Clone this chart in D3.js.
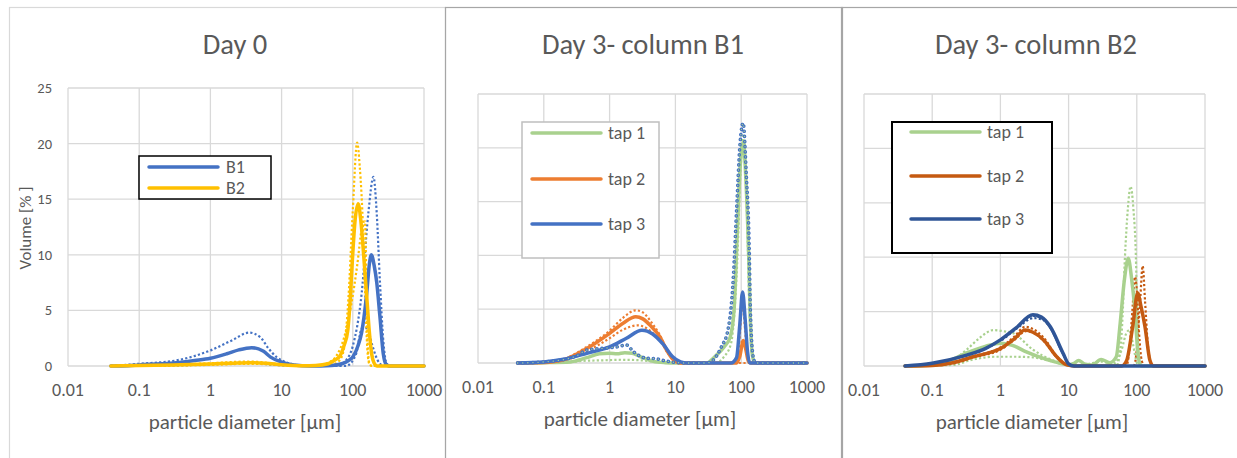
<!DOCTYPE html>
<html><head><meta charset="utf-8">
<script src="https://cdn.jsdelivr.net/npm/d3@7/dist/d3.min.js"></script>
<style>
html,body{margin:0;padding:0;background:#fff;}
svg{display:block;font-family:Carlito, Calibri, Lato, "Open Sans", sans-serif;}
</style></head><body>
<svg id="chart" width="1237" height="458"></svg>
<script>
// ---------- axis ticks / labels ----------
const xTicks = [0.01, 0.1, 1, 10, 100, 1000];
const xTickLabels = ["0.01", "0.1", "1", "10", "100", "1000"];
const yTicks = [0, 5, 10, 15, 20, 25];
const titles = ["Day 0", "Day 3- column B1", "Day 3- column B2"];
const xTitle = "particle diameter [µm]";
const yTitle = "Volume [% ]";
const legendDay0 = ["B1", "B2"];
const legendTaps = ["tap 1", "tap 2", "tap 3"];

// ---------- data: [diameter µm, volume %] ----------
// Day 0
const day0_B1 = [[0.04,0],[0.07,0.03],[0.1,0.1],[0.2,0.2],[0.33,0.3],[0.6,0.5],[1,0.7],[1.7,1.1],[2.5,1.45],[3.8,1.65],[5.5,1.35],[7,0.8],[10,0.35],[15,0.08],[25,0],[50,0.05],[70,0.2],[85,0.45],[101,0.85],[118,1.8],[133,3.0],[155,6.2],[172,9.3],[182,10.0],[200,9.0],[217,7.5],[240,4.5],[268,1.1],[290,0.2],[320,0],[1000,0]];
const day0_B1_rep1 = [[0.04,0],[0.1,0.2],[0.33,0.5],[1,1.4],[2,2.3],[3.5,3.0],[5,2.6],[6.5,1.6],[8.5,0.8],[12,0.3],[18,0.05],[30,0],[60,0],[80,0.5],[100,1.8],[133,6.5],[165,13.7],[195,17.0],[217,13.7],[240,7.7],[268,2.3],[300,0.2],[340,0],[1000,0]];
const day0_B1_rep2 = [[0.04,0],[0.3,0.05],[1,0.15],[3.5,0.3],[8,0.1],[20,0],[80,0],[110,1.0],[135,3.4],[160,3.4],[185,2.0],[220,0.6],[260,0.05],[300,0],[1000,0]];
const day0_B2 = [[0.04,0],[0.1,0.05],[0.3,0.1],[1,0.18],[2,0.25],[3.5,0.3],[6,0.25],[10,0.12],[20,0.03],[30,0.05],[45,0.2],[55,0.5],[66,0.9],[75,1.8],[85,3.2],[92,6],[98,9.2],[108,13.2],[119,14.6],[130,13],[145,9.2],[160,5.5],[170,3.2],[185,1.0],[199,0.27],[220,0],[1000,0]];
const day0_B2_rep1 = [[0.04,0],[0.3,0.1],[1,0.25],[3.5,0.4],[10,0.15],[30,0],[50,0.1],[65,0.5],[75,1.5],[87,6.2],[100,14],[115,20.1],[125,18],[140,12],[150,6],[160,1.5],[170,0.2],[185,0],[1000,0]];
const day0_B2_rep2 = [[0.04,0],[1,0.1],[3.5,0.2],[10,0.1],[30,0],[45,0.3],[60,1.0],[75,2.5],[95,5.5],[115,9],[135,12.5],[148,13],[155,8],[162,2],[170,0.3],[185,0],[1000,0]];

// Day 3 - column B1
const b1_tap1 = [[0.04,0],[0.1,0.03],[0.25,0.1],[0.45,0.5],[0.7,0.85],[1,0.9],[1.3,0.85],[1.7,0.95],[2.2,0.9],[2.9,0.6],[4.6,0.15],[7,0.03],[10,0],[30,0],[40,0.6],[55,1.5],[68,2.4],[78,5],[87,12],[97,18.5],[107,20.5],[118,17],[130,10],[137,4.5],[150,0.5],[165,0],[1000,0]];
const b1_tap1_rep = [[0.04,0],[0.2,0.05],[0.4,0.2],[0.8,0.25],[1.5,0.3],[3,0.25],[5,0.1],[10,0],[40,0],[55,0.6],[70,1.8],[85,8],[100,19],[110,21.5],[122,14],[135,4],[150,0.3],[165,0],[1000,0]];
const b1_tap2 = [[0.04,0],[0.1,0.05],[0.2,0.3],[0.45,1.35],[1,2.76],[1.6,3.7],[2.5,4.3],[3.2,4.1],[4.3,3.4],[5.8,2.45],[7.5,1.1],[9.3,0.3],[12,0],[85,0],[95,0.6],[108,2.1],[118,1.2],[128,0.2],[140,0],[1000,0]];
const b1_tap2_rep1 = [[0.04,0],[0.1,0.05],[0.2,0.35],[0.45,1.5],[1,3.0],[1.6,4.2],[2.5,4.9],[3.2,4.7],[4.3,3.8],[5.8,2.6],[7.5,1.2],[9.3,0.3],[12,0],[80,0],[92,1.5],[105,5.5],[115,3],[125,0.5],[135,0],[1000,0]];
const b1_tap2_rep2 = [[0.04,0],[0.2,0.25],[0.45,1.1],[1,2.3],[1.6,3.1],[2.7,3.5],[3.5,3.3],[4.5,2.8],[6,2],[7.5,1],[9.3,0.3],[12,0],[1000,0]];
const b1_tap3 = [[0.04,0],[0.1,0.1],[0.2,0.35],[0.45,0.9],[1,1.5],[1.8,2.3],[3.1,3.05],[4.5,2.7],[6.6,1.7],[9,0.6],[12,0.1],[15,0],[70,0],[85,0.5],[95,3.5],[105,6.6],[115,4],[125,1],[135,0],[1000,0]];
const b1_tap3_rep = [[0.04,0],[0.1,0.1],[0.3,0.6],[0.45,1.2],[0.8,1.37],[1.3,1.5],[1.8,1.67],[2.3,1.05],[3.6,0.45],[5,0.4],[7,0.2],[10,0.05],[15,0],[30,0],[38,0.3],[50,1.5],[63,3.1],[76,8],[85,14.2],[96,20.4],[107,22.3],[120,17.3],[132,11.1],[138,4.9],[152,0.6],[165,0],[1000,0]];

// Day 3 - column B2
const b2_tap1 = [[0.04,0],[0.1,0.1],[0.18,0.5],[0.32,1.2],[0.6,1.8],[1,2.1],[1.5,1.9],[2.4,1.3],[4.3,0.7],[7.5,0.25],[10,0.1],[12,0.25],[14,0.5],[17,0.2],[22,0.1],[30,0.6],[40,0.3],[50,0.85],[57,3.9],[66,8],[75,9.9],[84,8],[93,5.4],[105,0.9],[115,0],[1000,0]];
const b2_tap1_rep1 = [[0.04,0],[0.1,0.1],[0.18,0.4],[0.32,1.5],[0.5,2.6],[0.79,3.3],[1.1,3.2],[1.55,3.0],[3,1.5],[6,0.5],[10,0.1],[15,0],[50,0],[56,1],[61,3.8],[67,10],[74,14.5],[81,16.5],[89,14.5],[97,10],[102,3.8],[109,0.5],[118,0],[1000,0]];
const b2_tap1_rep2 = [[0.04,0],[0.2,0.1],[0.4,0.6],[0.8,0.85],[1.5,0.85],[3,0.8],[5,0.5],[8,0.2],[12,0],[20,0.2],[30,0.4],[45,0.2],[60,1.5],[70,3.0],[78,3.3],[88,2.0],[100,0.3],[110,0],[1000,0]];
const b2_tap2 = [[0.04,0],[0.1,0.05],[0.2,0.3],[0.4,0.85],[1,1.6],[1.6,2.5],[2.3,3.3],[3,3.1],[4.3,2.4],[6.7,0.85],[9.4,0.1],[12,0],[60,0],[71,0.5],[87,3.6],[103,6.7],[115,5.5],[132,3.6],[156,0.5],[175,0],[1000,0]];
const b2_tap2_rep1 = [[0.04,0],[0.2,0.3],[0.4,0.9],[1,1.7],[1.6,2.7],[2.3,3.6],[3,3.4],[4.3,2.6],[6.7,0.9],[9.4,0.1],[12,0],[70,0],[78,1.5],[87,5.5],[94,8.2],[100,7],[108,3],[118,0.5],[130,0],[1000,0]];
const b2_tap2_rep2 = [[0.04,0],[0.2,0.25],[0.4,0.8],[1,1.5],[1.6,2.4],[2.4,3.2],[3.2,3.0],[4.3,2.3],[6.7,0.8],[9.4,0.1],[12,0],[90,0],[100,1.5],[112,6],[122,9.2],[132,6],[145,2],[160,0.3],[175,0],[1000,0]];
const b2_tap3 = [[0.04,0],[0.1,0.25],[0.32,1.0],[0.6,1.6],[1,2.4],[1.7,3.5],[3,4.7],[4,4.5],[5.4,3.6],[8.3,1.17],[10,0.2],[12,0],[1000,0]];
const b2_tap3_rep1 = [[0.04,0],[0.1,0.25],[0.32,1.0],[0.6,1.6],[1,2.4],[1.7,3.5],[3,4.6],[4,4.4],[5.4,3.5],[8.3,1.1],[10,0.2],[12,0],[1000,0]];
const b2_tap3_rep2 = [[0.04,0],[0.1,0.25],[0.32,1.0],[0.6,1.6],[1,2.3],[1.7,3.4],[3.1,4.4],[4,4.3],[5.4,3.5],[8.3,1.1],[10,0.2],[12,0],[1000,0]];

// ---------- layout & style ----------
const TXT = "#595959";
const GRID = "#d9d9d9";
const C = {blue:"#4472C4", yellow:"#FFC000", green:"#A9D18E", orange:"#ED7D31", dorange:"#C55A11", dblue:"#2F5597"};

const panels = [
  {frame:[9,7,436,470], frameColor:"#d9d9d9", plot:{x0:68,x1:424,y0:366,y1:88}, title:titles[0], titleX:235, showY:true, xTitleX:245,
   series:[
     {d:day0_B1_rep1,c:C.blue,t:"dot"},{d:day0_B1_rep2,c:C.blue,t:"dot"},
     {d:day0_B2_rep1,c:C.yellow,t:"dot"},{d:day0_B2_rep2,c:C.yellow,t:"dot"},
     {d:day0_B1,c:C.blue,t:"solid"},{d:day0_B2,c:C.yellow,t:"solid"}],
   legend:{box:[139,156,132,43], stroke:"#000", sw:1.5, lx0:149, lx1:218, ys:[167,188], tx:226, labels:legendDay0, colors:[C.blue,C.yellow]}},
  {frame:[445,7,397,470], frameColor:"#a6a6a6", plot:{x0:478,x1:807,y0:363,y1:94}, title:titles[1], titleX:643, showY:false, xTitleX:640,
   series:[
     {d:b1_tap1_rep,c:C.green,t:"dot"},
     {d:b1_tap2_rep1,c:C.orange,t:"dot"},{d:b1_tap2_rep2,c:C.orange,t:"dot"},
     {d:b1_tap1,c:C.green,t:"solid"},{d:b1_tap2,c:C.orange,t:"solid"},{d:b1_tap3,c:C.blue,t:"solid"},
     {d:b1_tap3_rep,c:C.blue,t:"ring",fill:C.green}],
   legend:{box:[522,122,137,136], stroke:"#bfbfbf", sw:1.5, lx0:532, lx1:601, ys:[133,179,224], tx:608, labels:legendTaps, colors:[C.green,C.orange,C.blue]}},
  {frame:[841,7,400,470], frameColor:"#a6a6a6", plot:{x0:864,x1:1205,y0:366,y1:94}, title:titles[2], titleX:1036, showY:false, xTitleX:1032,
   series:[
     {d:b2_tap1_rep1,c:C.green,t:"dot"},{d:b2_tap1_rep2,c:C.green,t:"dot"},
     {d:b2_tap2_rep1,c:C.dorange,t:"dot"},{d:b2_tap2_rep2,c:C.dorange,t:"dot"},
     {d:b2_tap3_rep1,c:C.dblue,t:"dot"},{d:b2_tap3_rep2,c:C.dblue,t:"dot"},
     {d:b2_tap1,c:C.green,t:"solid"},{d:b2_tap2,c:C.dorange,t:"solid"},{d:b2_tap3,c:C.dblue,t:"solid"}],
   legend:{box:[892,122,160,131], stroke:"#000", sw:2, lx0:911, lx1:980, ys:[132,176,219], tx:987, labels:legendTaps, colors:[C.green,C.dorange,C.dblue]}}
];

const svg = d3.select("#chart");
svg.append("rect").attr("width",1237).attr("height",458).attr("fill","#fff");

panels.forEach(p => {
  const g = svg.append("g");
  const [fx,fy,fw,fh] = p.frame;
  g.append("rect").attr("x",fx+0.5).attr("y",fy+0.5).attr("width",fw).attr("height",fh)
    .attr("fill","none").attr("stroke",p.frameColor).attr("stroke-width",1.2);

  const x = d3.scaleLog().domain([0.01,1000]).range([p.plot.x0,p.plot.x1]);
  const y = d3.scaleLinear().domain([0,25]).range([p.plot.y0,p.plot.y1]);

  // gridlines
  g.append("g").selectAll("line").data(yTicks).join("line")
    .attr("x1",p.plot.x0).attr("x2",p.plot.x1).attr("y1",d=>y(d)).attr("y2",d=>y(d))
    .attr("stroke",GRID).attr("stroke-width",1.3);
  g.append("g").selectAll("line").data(xTicks).join("line")
    .attr("x1",d=>x(d)).attr("x2",d=>x(d)).attr("y1",p.plot.y0).attr("y2",p.plot.y1)
    .attr("stroke",GRID).attr("stroke-width",1.3);

  // x tick labels
  g.append("g").selectAll("text").data(xTicks).join("text")
    .attr("x",d=>x(d)).attr("y",p.plot.y0+30).attr("text-anchor","middle")
    .attr("fill",TXT).attr("font-size",18).text((d,i)=>xTickLabels[i]);
  // y tick labels
  if (p.showY) {
    g.append("g").selectAll("text").data(yTicks).join("text")
      .attr("x",p.plot.x0-16).attr("y",d=>y(d)+5).attr("text-anchor","end")
      .attr("fill",TXT).attr("font-size",14.5).text(d=>d);
    g.append("text").attr("transform",`translate(31,228) rotate(-90)`).attr("text-anchor","middle")
      .attr("fill",TXT).attr("font-size",17).text(yTitle);
  }
  // titles
  g.append("text").attr("x",p.titleX).attr("y",54).attr("text-anchor","middle")
    .attr("fill",TXT).attr("font-size",28.5).text(p.title);
  g.append("text").attr("x",p.xTitleX).attr("y",p.plot.y0+63).attr("text-anchor","middle")
    .attr("fill",TXT).attr("font-size",21).text(xTitle);

  // series
  const line = d3.line().x(d=>x(d[0])).y(d=>y(d[1])).curve(d3.curveMonotoneX);
  p.series.forEach(s => {
    if (s.t === "solid") {
      g.append("path").attr("d",line(s.d)).attr("fill","none").attr("stroke",s.c)
        .attr("stroke-width",3.5).attr("stroke-linejoin","round").attr("stroke-linecap","round");
    } else if (s.t === "dot") {
      g.append("path").attr("d",line(s.d)).attr("fill","none").attr("stroke",s.c)
        .attr("stroke-width",2.2).attr("stroke-dasharray","2.2 2.2");
    } else if (s.t === "ring") {
      g.append("path").attr("d",line(s.d)).attr("fill","none").attr("stroke",s.c)
        .attr("stroke-width",3.6).attr("stroke-linecap","round").attr("stroke-dasharray","0.1 5");
      g.append("path").attr("d",line(s.d)).attr("fill","none").attr("stroke",s.fill)
        .attr("stroke-width",1.3).attr("stroke-linecap","round").attr("stroke-dasharray","0.1 5");
    }
  });

  // legend
  const L = p.legend;
  g.append("rect").attr("x",L.box[0]).attr("y",L.box[1]).attr("width",L.box[2]).attr("height",L.box[3])
    .attr("fill","#fff").attr("stroke",L.stroke).attr("stroke-width",L.sw);
  L.labels.forEach((lab,i) => {
    g.append("line").attr("x1",L.lx0).attr("x2",L.lx1).attr("y1",L.ys[i]).attr("y2",L.ys[i])
      .attr("stroke",L.colors[i]).attr("stroke-width",3.5).attr("stroke-linecap","round");
    g.append("text").attr("x",L.tx).attr("y",L.ys[i]+6).attr("fill",TXT).attr("font-size",18).text(lab);
  });
});
</script>
</body></html>
